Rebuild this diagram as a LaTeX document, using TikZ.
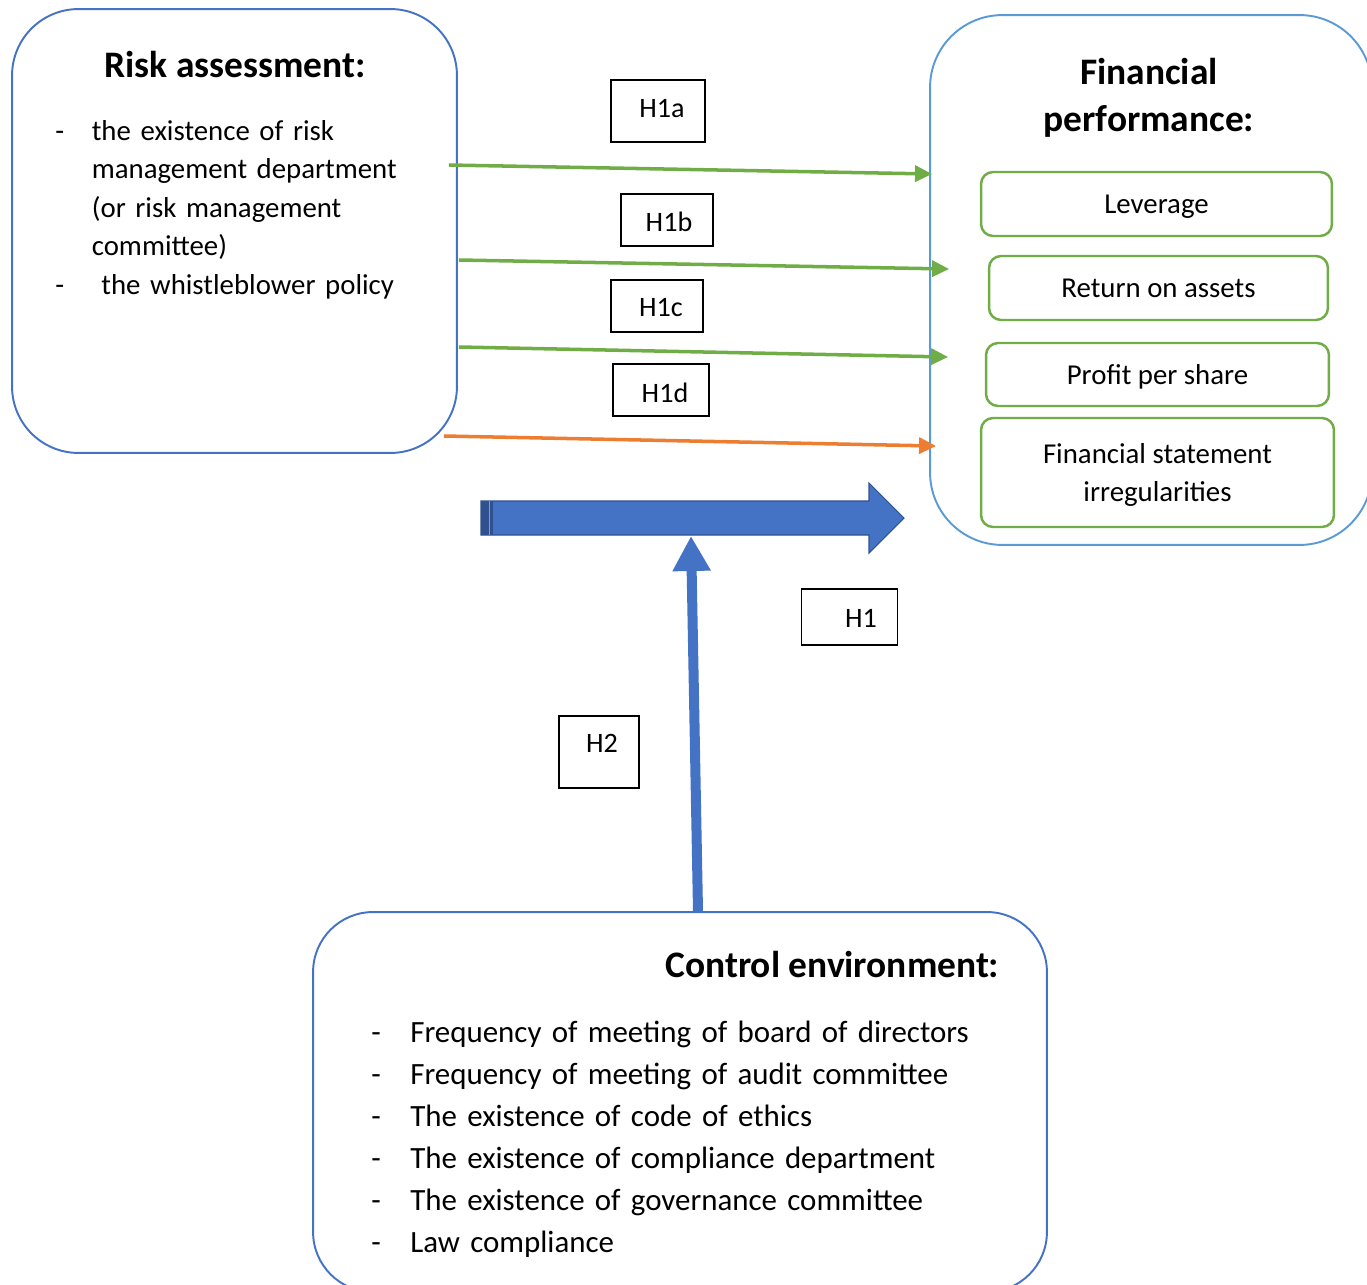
\documentclass[tikz,border=0pt]{standalone}
\usepackage{fontspec}
\setmainfont{Carlito}
\usepackage{tikz}
\usetikzlibrary{positioning,calc,arrows.meta}
\usepackage{xcolor}

\definecolor{boxblue}{HTML}{4472C4}
\definecolor{finblue}{HTML}{5B9BD5}
\definecolor{boxgreen}{HTML}{70AD47}
\definecolor{boxorange}{HTML}{ED7D31}
\definecolor{darkblue}{HTML}{2F528F}

\newcommand{\dashitem}[1][0.73cm]{\makebox[#1][l]{-}}

\begin{document}
\begin{tikzpicture}[x=0.02cm, y=-0.02cm]
    \tikzstyle{bigbox} = [rectangle, draw, line width=1.1pt, inner sep=0pt]
    \tikzstyle{perfbox} = [rectangle, rounded corners=0.24cm, draw=boxgreen,
               line width=1.4pt, align=center, text depth=0pt,
               font=\fontsize{16.4}{21.5}\selectfont]
    \tikzstyle{hbox} = [rectangle, draw, line width=0.7pt, inner sep=0pt]
    \tikzstyle{hlabel} = [font=\fontsize{16}{19}\selectfont, inner sep=0pt]
    \tikzstyle{title} = [inner sep=0pt, font=\fontsize{21.3}{27.2}\selectfont\bfseries]
    \tikzstyle{line} = [draw, line width=2pt, -{Triangle[length=0.34cm,width=0.32cm]}]

    \useasboundingbox (0,0) rectangle (1367,1285);
    \clip (0,0) rectangle (1367,1285);

    % Define boxes
    \node[bigbox, draw=boxblue, rounded corners=1.33cm,
      minimum width=8.9cm, minimum height=8.88cm] (risk) at (234.5,231) {};
    \node[bigbox, draw=finblue, rounded corners=1.45cm,
      minimum width=8.84cm, minimum height=10.6cm] (fin) at (1151,280) {};
    \node[bigbox, draw=boxblue, rounded corners=1.2cm,
      minimum width=14.68cm, minimum height=7.6cm] (control) at (680,1102) {};

    % Risk assessment
    \node[title, anchor=base] (risktitle) at (235,77) {Risk assessment:};
    \node[anchor=base west, inner sep=0pt, text width=8cm, align=left,
      font=\fontsize{16.4}{22}\selectfont] (risklist) at (55,140)
      {\dashitem the existence of risk\\
       \hspace*{0.73cm}management department\\
       \hspace*{0.73cm}(or risk management\\
       \hspace*{0.73cm}committee)\\
       \dashitem\ the whistleblower policy};

    % Financial performance
    \node[title, anchor=base, text width=8cm, align=center] (fintitle) at (1149,84)
      {Financial\\ performance:};
    \node[perfbox, minimum width=7.02cm, minimum height=1.28cm] (lev) at (1156.5,204) {Leverage};
    \node[perfbox, minimum width=6.78cm, minimum height=1.28cm] (roa) at (1158.5,288) {Return on assets};
    \node[perfbox, minimum width=6.86cm, minimum height=1.26cm] (pps) at (1157.5,374.5) {Profit per share};
    \node[perfbox, minimum width=7.06cm, minimum height=2.18cm] (fsi) at (1157.5,472.5)
      {Financial statement\\ irregularities};

    % Control environment
    \node[title, anchor=base west] (ctrltitle) at (665,977) {Control environment:};
    \node[anchor=base west, inner sep=0pt, text width=13cm, align=left,
      font=\fontsize{17.6}{24}\selectfont] (ctrllist) at (371,1042)
      {\dashitem[0.78cm]Frequency of meeting of board of directors\\
       \dashitem[0.78cm]Frequency of meeting of audit committee\\
       \dashitem[0.78cm]The existence of code of ethics\\
       \dashitem[0.78cm]The existence of compliance department\\
       \dashitem[0.78cm]The existence of governance committee\\
       \dashitem[0.78cm]Law compliance};

    % Hypothesis labels
    \node[hbox, minimum width=1.88cm, minimum height=1.24cm,
      label={[hlabel, xshift=0.08cm, yshift=0.04cm]center:H1a}] (h1a) at (658,111) {};
    \node[hbox, minimum width=1.84cm, minimum height=1.04cm,
      label={[hlabel, xshift=0.04cm, yshift=-0.04cm]center:H1b}] (h1b) at (667,220) {};
    \node[hbox, minimum width=1.84cm, minimum height=1.04cm,
      label={[hlabel, xshift=0.08cm, yshift=-0.04cm]center:H1c}] (h1c) at (657,306) {};
    \node[hbox, minimum width=1.92cm, minimum height=1.04cm,
      label={[hlabel, xshift=0.08cm, yshift=-0.06cm]center:H1d}] (h1d) at (661,390) {};
    \node[hbox, minimum width=1.92cm, minimum height=1.12cm,
      label={[hlabel, xshift=0.23cm, yshift=-0.02cm]center:H1}] (h1) at (849.5,617) {};
    \node[hbox, minimum width=1.6cm, minimum height=1.44cm,
      label={[hlabel, xshift=0.06cm, yshift=0.18cm]center:H2}] (h2) at (599,752) {};

    % Arrows from risk assessment to financial performance
    \draw[line, boxgreen] ($(risk.east)+(-9,-66)$) -- ($(fin.west)+(3,-106)$);
    \draw[line, boxgreen] ($(risk.east)+(1,29)$) -- ($(fin.west)+(20,-11)$);
    \draw[line, boxgreen] ($(risk.east)+(1,116)$) -- ($(fin.west)+(19,77)$);
    \draw[line, boxorange] ($(risk.east)+(-14,205)$) -- ($(fin.west)+(7,166)$);

    % Big arrow H1
    \filldraw[fill=boxblue, draw=darkblue, line width=0.6pt]
      (481,501) -- (869,501) -- (869,483) -- (904,518) -- (869,553)
      -- (869,535) -- (481,535) -- cycle;
    \fill[darkblue] (481,501) rectangle (493,535);
    \draw[boxblue!70, line width=0.5pt] (489,501) -- (489,535);

    % Arrow H2
    \coordinate (pivot) at (691,536);
    \draw[boxblue, line width=0.2cm, -{Triangle[length=0.7cm,width=0.72cm]}]
      ($(control.north)+(18,0)$) -- (pivot);
\end{tikzpicture}
\end{document}
